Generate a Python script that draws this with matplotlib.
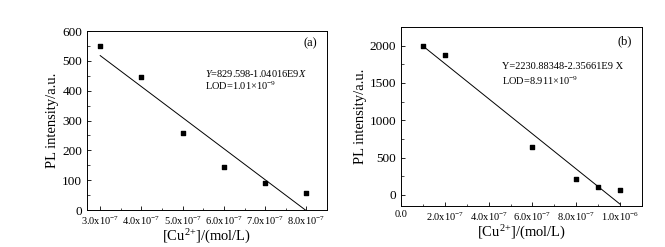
import matplotlib
matplotlib.use("Agg")
import matplotlib.pyplot as plt
import numpy as np
from matplotlib.ticker import AutoMinorLocator

plt.rcParams['font.family'] = ['Liberation Serif', 'DejaVu Serif']
plt.rcParams['mathtext.fontset'] = 'custom'
plt.rcParams['mathtext.rm'] = 'Liberation Serif'
plt.rcParams['mathtext.it'] = 'Liberation Serif:italic'

# Panel (a)
xa = [3.0e-7, 4.0e-7, 5.0e-7, 6.0e-7, 7.0e-7, 8.0e-7]
ya = [550, 447, 257, 144, 92, 58]
fit_a = (829.598, -1.04016e9)
xa_ticks = [3.0e-7, 4.0e-7, 5.0e-7, 6.0e-7, 7.0e-7, 8.0e-7]
xa_labels = ["3.0x10$^{-7}$", "4.0x10$^{-7}$", "5.0x10$^{-7}$", "6.0x10$^{-7}$", "7.0x10$^{-7}$", "8.0x10$^{-7}$"]
ya_ticks = [0, 100, 200, 300, 400, 500, 600]

# Panel (b)
xb = [1.0e-7, 2.0e-7, 6.0e-7, 8.0e-7, 9.0e-7, 1.0e-6]
yb = [2000, 1880, 635, 215, 110, 60]
fit_b = (2230.88348, -2.35661e9)
xb_ticks = [0.0, 2.0e-7, 4.0e-7, 6.0e-7, 8.0e-7, 1.0e-6]
xb_labels = ["0.0", "2.0x10$^{-7}$", "4.0x10$^{-7}$", "6.0x10$^{-7}$", "8.0x10$^{-7}$", "1.0x10$^{-6}$"]
yb_ticks = [0, 500, 1000, 1500, 2000]

xlabel_text = "[Cu$^{\\text{2+}}$]/(mol/L)"
ylabel_text = "PL intensity/a.u."

W, H = 665, 247
fig = plt.figure(figsize=(W/100, H/100), dpi=100)

def add_ax(l, t, r, b):
    return fig.add_axes([l/W, 1 - b/H, (r-l)/W, (b-t)/H])

axa = add_ax(87, 31, 327, 210)
axb = add_ax(401, 27, 642, 206)

def style(ax):
    ax.tick_params(direction='in', which='both', top=False, right=False)
    ax.tick_params(which='major', length=3, width=0.6, labelsize=9.5)
    ax.tick_params(which='minor', length=1.8, width=0.5)
    ax.tick_params(axis='x', labelsize=7.5, pad=3)
    for s in ax.spines.values():
        s.set_linewidth(0.7)
    ax.xaxis.set_minor_locator(AutoMinorLocator(2))
    ax.yaxis.set_minor_locator(AutoMinorLocator(2))

# (a)
axa.scatter(xa, ya, marker='s', s=12, color='black', zorder=3)
lx = np.array([xa[0], xa[-1]])
axa.plot(lx, fit_a[0] + fit_a[1]*lx, color='black', lw=0.7)
axa.set_xlim(2.68e-7, 8.5e-7)
axa.set_ylim(0, 600)
axa.set_xticks(xa_ticks)
axa.set_xticklabels(xa_labels)
axa.set_yticks(ya_ticks)
style(axa)
axa.set_xlabel(xlabel_text, fontsize=10.5, labelpad=1)
axa.set_ylabel(ylabel_text, fontsize=10.5, labelpad=2)
axa.text(0.96, 0.93, "(a)", transform=axa.transAxes, ha='right', va='center', fontsize=9)
axa.text(0.49, 0.765, "$\\it{Y}$=829.598-1.04016E9$\\it{X}$", transform=axa.transAxes, ha='left', va='center', fontsize=7.5)
axa.text(0.49, 0.695, "LOD=1.01×10$^{-9}$", transform=axa.transAxes, ha='left', va='center', fontsize=7.5)

# (b)
axb.scatter(xb, yb, marker='s', s=12, color='black', zorder=3)
lx = np.array([xb[0], xb[-1]])
axb.plot(lx, fit_b[0] + fit_b[1]*lx, color='black', lw=0.7)
axb.set_xlim(0, 1.1e-6)
axb.set_ylim(-150, 2250)
axb.set_xticks(xb_ticks)
axb.set_xticklabels(xb_labels)
axb.set_yticks(yb_ticks)
style(axb)
axb.set_xlabel(xlabel_text, fontsize=10.5, labelpad=1)
axb.set_ylabel(ylabel_text, fontsize=10.5, labelpad=2)
axb.text(0.96, 0.92, "(b)", transform=axb.transAxes, ha='right', va='center', fontsize=9)
axb.text(0.42, 0.78, "Y=2230.88348-2.35661E9 X", transform=axb.transAxes, ha='left', va='center', fontsize=7.5)
axb.text(0.42, 0.70, "LOD=8.911×10$^{-9}$", transform=axb.transAxes, ha='left', va='center', fontsize=7.5)

fig.savefig("out.png", dpi=100)
